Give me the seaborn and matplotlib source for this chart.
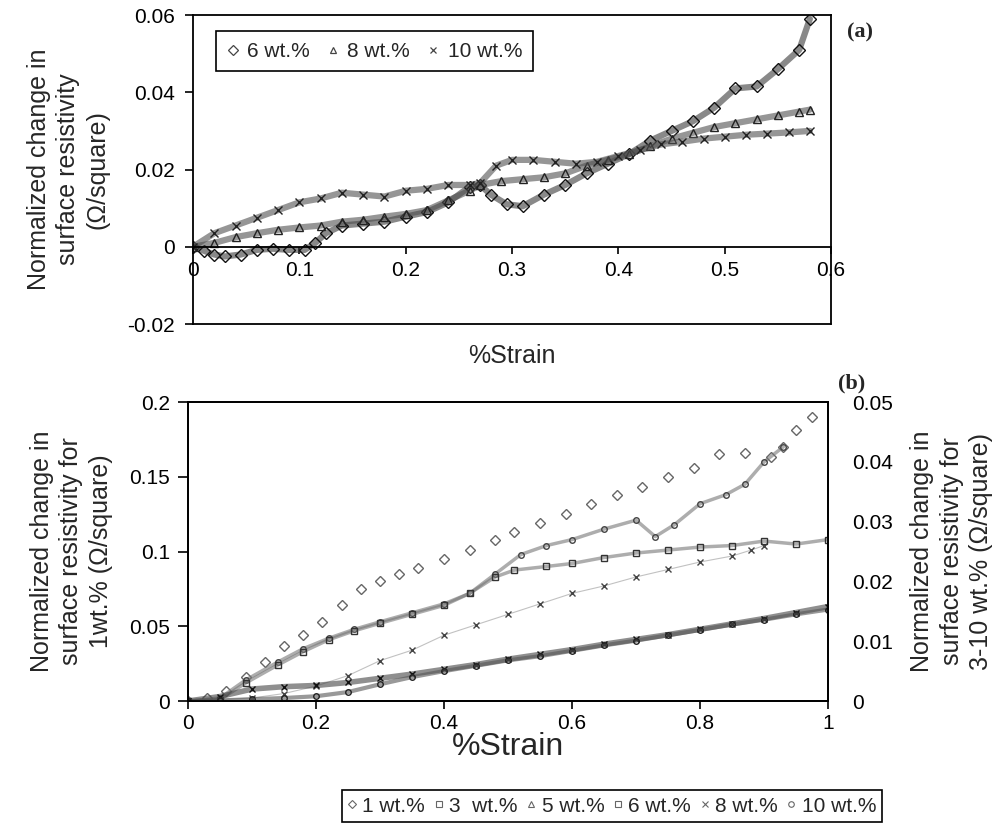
import matplotlib
matplotlib.use('Agg')
import matplotlib.pyplot as plt
import seaborn as sns
import pandas as pd
from matplotlib.lines import Line2D

sns.set_theme(style='white')
plt.rcParams['font.family'] = ['Liberation Sans', 'DejaVu Sans']
plt.rcParams['axes.linewidth'] = 1.3
plt.rcParams['axes.edgecolor'] = 'black'
plt.rcParams['xtick.color'] = 'black'
plt.rcParams['ytick.color'] = 'black'

# ---------------- panel (a) data ----------------
a_labels = ['6 wt.%', '8 wt.%', '10 wt.%']
a6_x = [0, 0.01, 0.02, 0.03, 0.045, 0.06, 0.075, 0.09, 0.105, 0.115, 0.125, 0.14, 0.16, 0.18, 0.2,
        0.22, 0.24, 0.26, 0.27, 0.28, 0.295, 0.31, 0.33, 0.35, 0.37, 0.39, 0.41, 0.43, 0.45, 0.47,
        0.49, 0.51, 0.53, 0.55, 0.57, 0.58]
a6_y = [0, -0.001, -0.002, -0.0025, -0.002, -0.0008, -0.0005, -0.0008, -0.0008, 0.001, 0.0035,
        0.0055, 0.006, 0.0065, 0.0078, 0.009, 0.0115, 0.0155, 0.016, 0.0135, 0.011, 0.0105, 0.0135,
        0.016, 0.019, 0.0215, 0.024, 0.0275, 0.030, 0.0325, 0.036, 0.041, 0.0415, 0.046, 0.051, 0.059]
a8_x = [0, 0.02, 0.04, 0.06, 0.08, 0.1, 0.12, 0.14, 0.16, 0.18, 0.2, 0.22, 0.24, 0.26, 0.27, 0.29,
        0.31, 0.33, 0.35, 0.37, 0.39, 0.41, 0.43, 0.45, 0.47, 0.49, 0.51, 0.53, 0.55, 0.57, 0.58]
a8_y = [0, 0.001, 0.0025, 0.0035, 0.0044, 0.005, 0.0055, 0.0065, 0.007, 0.0078, 0.0085, 0.0095,
        0.012, 0.0145, 0.016, 0.017, 0.0175, 0.018, 0.019, 0.021, 0.0225, 0.024, 0.026, 0.028,
        0.0295, 0.031, 0.032, 0.033, 0.034, 0.035, 0.0355]
a10_x = [0, 0.02, 0.04, 0.06, 0.08, 0.1, 0.12, 0.14, 0.16, 0.18, 0.2, 0.22, 0.24, 0.26, 0.27, 0.285,
         0.3, 0.32, 0.34, 0.36, 0.38, 0.4, 0.42, 0.44, 0.46, 0.48, 0.5, 0.52, 0.54, 0.56, 0.58]
a10_y = [0, 0.0035, 0.0055, 0.0075, 0.0095, 0.0115, 0.0125, 0.014, 0.0135, 0.013, 0.0145, 0.015,
         0.016, 0.016, 0.0165, 0.021, 0.0225, 0.0225, 0.022, 0.0215, 0.022, 0.0235, 0.025, 0.0265,
         0.0272, 0.028, 0.0285, 0.029, 0.0293, 0.0296, 0.030]
a_xticks = [0, 0.1, 0.2, 0.3, 0.4, 0.5, 0.6]
a_xticklabels = ['0', '0.1', '0.2', '0.3', '0.4', '0.5', '0.6']
a_yticks = [-0.02, 0, 0.02, 0.04, 0.06]
a_yticklabels = ['-0.02', '0', '0.02', '0.04', '0.06']

# ---------------- panel (b) data ----------------
b_labels = ['1 wt.%', '3  wt.%', '5 wt.%', '6 wt.%', '8 wt.%', '10 wt.%']
# 1 wt.% on left axis
b1_x = [0, 0.03, 0.06, 0.09, 0.12, 0.15, 0.18, 0.21, 0.24, 0.27, 0.3, 0.33, 0.36, 0.4, 0.44, 0.48,
        0.51, 0.55, 0.59, 0.63, 0.67, 0.71, 0.75, 0.79, 0.83, 0.87, 0.91, 0.93, 0.95, 0.975]
b1_y = [0, 0.002, 0.007, 0.016, 0.026, 0.037, 0.044, 0.053, 0.064, 0.075, 0.08, 0.085, 0.089,
        0.095, 0.101, 0.108, 0.113, 0.119, 0.125, 0.132, 0.138, 0.143, 0.15, 0.156, 0.165, 0.166,
        0.163, 0.17, 0.181, 0.19]
# 3-10 wt.% on right axis
b3_x = [0, 0.05, 0.09, 0.14, 0.18, 0.22, 0.26, 0.3, 0.35, 0.4, 0.44, 0.48, 0.52, 0.56, 0.6, 0.65,
        0.7, 0.73, 0.76, 0.8, 0.84, 0.87, 0.9, 0.93]
b3_y = [0, 0.0005, 0.0035, 0.0065, 0.00875, 0.0105, 0.012, 0.01325, 0.01475, 0.01625, 0.018,
        0.02125, 0.0245, 0.026, 0.027, 0.02875, 0.03025, 0.0275, 0.0295, 0.033, 0.0345, 0.03625,
        0.04, 0.0425]
b5_x = [0, 0.1, 0.15, 0.2, 0.25, 0.3, 0.35, 0.4, 0.45, 0.5, 0.55, 0.6, 0.65, 0.7, 0.75, 0.8, 0.85,
        0.88, 0.9]
b5_y = [0, 0.0005, 0.00125, 0.0025, 0.00425, 0.00675, 0.0085, 0.011, 0.01275, 0.0145, 0.01625,
        0.018, 0.01925, 0.02075, 0.022, 0.02325, 0.02425, 0.02525, 0.026]
b6_x = [0, 0.05, 0.09, 0.14, 0.18, 0.22, 0.26, 0.3, 0.35, 0.4, 0.44, 0.48, 0.51, 0.56, 0.6, 0.65,
        0.7, 0.75, 0.8, 0.85, 0.9, 0.95, 1.0]
b6_y = [0, 0.00025, 0.003, 0.006, 0.00825, 0.01025, 0.01175, 0.013, 0.0145, 0.016, 0.018, 0.02075,
        0.0219, 0.0225, 0.023, 0.024, 0.02475, 0.02525, 0.02575, 0.026, 0.02675, 0.02625, 0.027]
b8_x = [0, 0.05, 0.1, 0.15, 0.2, 0.25, 0.3, 0.35, 0.4, 0.45, 0.5, 0.55, 0.6, 0.65, 0.7, 0.75, 0.8,
        0.85, 0.9, 0.95, 1.0]
b8_y = [0, 0.00075, 0.002, 0.0024, 0.0026, 0.0031, 0.0038, 0.0045, 0.0053, 0.0061, 0.007, 0.0078,
        0.0086, 0.0095, 0.0103, 0.0111, 0.012, 0.0129, 0.0138, 0.0148, 0.0158]
b10_x = b8_x
b10_y = [0, 0.0001, 0.0003, 0.0005, 0.0008, 0.0015, 0.0028, 0.004, 0.005, 0.0059, 0.0068, 0.0075,
         0.0084, 0.0093, 0.0101, 0.011, 0.0119, 0.0128, 0.0136, 0.0145, 0.0153]
b_xticks = [0, 0.2, 0.4, 0.6, 0.8, 1.0]
b_xticklabels = ['0', '0.2', '0.4', '0.6', '0.8', '1']
b_lyticks = [0, 0.05, 0.1, 0.15, 0.2]
b_lyticklabels = ['0', '0.05', '0.1', '0.15', '0.2']
b_ryticks = [0, 0.01, 0.02, 0.03, 0.04, 0.05]
b_ryticklabels = ['0', '0.01', '0.02', '0.03', '0.04', '0.05']

fig = plt.figure(figsize=(10.05, 8.3), dpi=100)
fig.patch.set_facecolor('white')


def draw(ax, xs, ys, marker, color, lw, ms, lcolor=None, alpha=1.0):
    df = pd.DataFrame({'x': xs, 'y': ys})
    # fuzzy band underneath (dense scanned markers)
    if lw > 0:
        sns.lineplot(data=df, x='x', y='y', ax=ax, sort=False, estimator=None,
                     color=lcolor or color, linewidth=lw, alpha=0.6, legend=False)
    sns.lineplot(data=df, x='x', y='y', ax=ax, sort=False, estimator=None, color=color,
                 linewidth=0, marker=marker, markersize=ms, markerfacecolor='none',
                 markeredgecolor=color, markeredgewidth=1.0, alpha=alpha, legend=False)


# ---------------- panel (a) ----------------
axa = fig.add_axes([0.192, 0.6096, 0.635, 0.3723])
draw(axa, a6_x, a6_y, 'D', '#111111', 4.5, 6, '#3a3a3a')
draw(axa, a8_x, a8_y, '^', '#222222', 4.5, 6, '#505050')
draw(axa, a10_x, a10_y, 'x', '#222222', 4.5, 6, '#505050')
axa.set_xlim(0, 0.6)
axa.set_ylim(-0.02, 0.06)
axa.spines['bottom'].set_position(('data', 0))
axa.axhline(-0.02, color='black', lw=1.3, clip_on=False, zorder=5)
axa.set_xticks(a_xticks)
axa.set_xticklabels(a_xticklabels)
axa.set_yticks(a_yticks)
axa.set_yticklabels(a_yticklabels)
axa.tick_params(axis='x', direction='out', length=5, width=1.2, pad=5, labelsize=15, bottom=True)
axa.tick_params(axis='y', direction='out', length=6, width=1.2, pad=7, labelsize=15, left=True)
axa.set_xlabel('%Strain', fontsize=18)
axa.xaxis.set_label_coords(0.5, -0.066)
axa.set_ylabel('Normalized change in\nsurface resistivity\n(\u03a9/square)', fontsize=18,
               linespacing=1.3)
axa.yaxis.set_label_coords(-0.13, 0.5)
for s in axa.spines.values():
    s.set_visible(True)
    s.set_color('black')
ha = [Line2D([], [], ls='none', marker='D', ms=5, mfc='none', mec='#444', mew=0.9),
      Line2D([], [], ls='none', marker='^', ms=5, mfc='none', mec='#444', mew=0.9),
      Line2D([], [], ls='none', marker='x', ms=5, mfc='none', mec='#444', mew=0.9)]
lga = axa.legend(ha, a_labels, loc='upper left', bbox_to_anchor=(0.036, 0.947), ncol=3,
                 fontsize=15, frameon=True, fancybox=False, framealpha=1, edgecolor='black',
                 handlelength=0.6, handletextpad=0.4, columnspacing=0.8, borderpad=0.5,
                 borderaxespad=0)
lga.get_frame().set_linewidth(1.2)
fig.text(860 / 1005, 1 - 32 / 830, '(a)', family='Liberation Serif', fontweight='bold',
         fontsize=16, ha='center', va='center')

# ---------------- panel (b) ----------------
axb = fig.add_axes([0.187, 0.1554, 0.637, 0.3602])
ax2 = axb.twinx()
draw(axb, b1_x, b1_y, 'D', '#666666', 0.0, 5)
draw(ax2, b3_x, b3_y, 'o', '#444444', 2.5, 4, '#777777')
draw(ax2, b5_x, b5_y, 'x', '#444444', 0.8, 5, '#999999')
draw(ax2, b6_x, b6_y, 's', '#333333', 2.5, 4, '#777777')
draw(ax2, b8_x, b8_y, 'x', '#111111', 4.0, 5, '#444444')
draw(ax2, b10_x, b10_y, 'o', '#222222', 3.0, 4, '#555555')
axb.set_xlim(0, 1)
axb.set_ylim(0, 0.2)
ax2.set_ylim(0, 0.05)
axb.set_xticks(b_xticks)
axb.set_xticklabels(b_xticklabels)
axb.set_yticks(b_lyticks)
axb.set_yticklabels(b_lyticklabels)
ax2.set_yticks(b_ryticks)
ax2.set_yticklabels(b_ryticklabels)
axb.tick_params(axis='x', direction='out', length=6, width=1.2, pad=3, labelsize=15, bottom=True)
axb.tick_params(axis='y', direction='out', length=7, width=1.2, pad=6, labelsize=15, left=True)
ax2.tick_params(axis='y', direction='in', length=0, pad=17, labelsize=15, right=True)
axb.set_xlabel('%Strain', fontsize=23)
axb.xaxis.set_label_coords(0.5, -0.105)
axb.set_ylabel('Normalized change in\nsurface resistivity for\n1wt.% (\u03a9/square)',
               fontsize=18, linespacing=1.3)
axb.yaxis.set_label_coords(-0.117, 0.5)
ax2.set_ylabel('Normalized change in\nsurface resistivity for\n3-10 wt.% (\u03a9/square)',
               fontsize=18, linespacing=1.3)
ax2.yaxis.set_label_coords(1.128, 0.5)
for ax in (axb, ax2):
    for s in ax.spines.values():
        s.set_visible(True)
        s.set_color('black')
        s.set_linewidth(1.3)
    ax.set_facecolor('none')

mk = ['D', 's', '^', 's', 'x', 'o']
hb = [Line2D([], [], ls='none', marker=m, ms=4, mfc='none', mec='#666', mew=0.8) for m in mk]
lgb = fig.legend(hb, b_labels, loc='center', bbox_to_anchor=(612 / 1005, 1 - 806 / 830), ncol=6,
                 fontsize=15, frameon=True, fancybox=False, framealpha=1, edgecolor='black',
                 handlelength=0.4, handletextpad=0.3, columnspacing=0.45, borderpad=0.3)
lgb.get_frame().set_linewidth(1.2)
fig.text(852 / 1005, 1 - 383 / 830, '(b)', family='Liberation Serif', fontweight='bold',
         fontsize=16, ha='center', va='center')

fig.savefig('out.png', dpi=100, facecolor='white')
